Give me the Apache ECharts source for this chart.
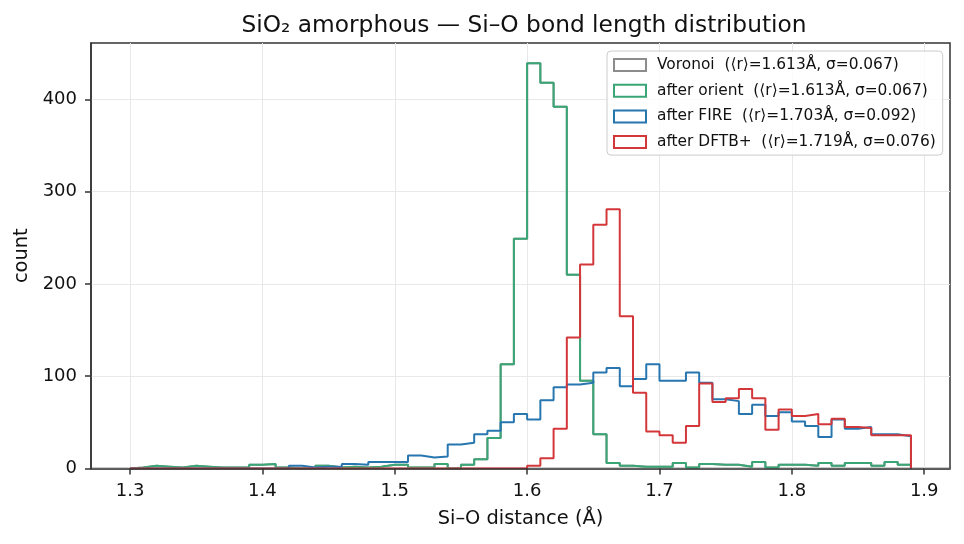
<!DOCTYPE html>
<html>
<head>
<meta charset="utf-8">
<script src="https://cdn.jsdelivr.net/npm/echarts@6/dist/echarts.min.js"></script>
<style>
  html, body { margin: 0; padding: 0; background: #fff; }
  #chart { width: 964px; height: 544px; }
</style>
</head>
<body>
<div id="chart"></div>
<script>
// histogram bins: 1.30 .. 1.89, width 0.01
const binEdges = [
  1.30, 1.31, 1.32, 1.33, 1.34, 1.35, 1.36, 1.37, 1.38, 1.39,
  1.40, 1.41, 1.42, 1.43, 1.44, 1.45, 1.46, 1.47, 1.48, 1.49,
  1.50, 1.51, 1.52, 1.53, 1.54, 1.55, 1.56, 1.57, 1.58, 1.59,
  1.60, 1.61, 1.62, 1.63, 1.64, 1.65, 1.66, 1.67, 1.68, 1.69,
  1.70, 1.71, 1.72, 1.73, 1.74, 1.75, 1.76, 1.77, 1.78, 1.79,
  1.80, 1.81, 1.82, 1.83, 1.84, 1.85, 1.86, 1.87, 1.88, 1.89
];

const voronoiCounts = [
  1, 3, 2, 1, 3, 2, 1, 1, 1, 4,
  5, 1, 0, 0, 3, 1, 2, 1, 2, 4,
  4, 1, 1, 5, 0, 4, 10, 33, 113, 249,
  439, 418, 392, 210, 95, 37, 6, 3, 2, 2,
  2, 6, 1, 5, 4, 4, 2, 7, 1, 4,
  4, 3, 6, 3, 6, 6, 3, 7, 4
];
const orientCounts = [
  1, 3, 2, 1, 3, 2, 1, 1, 1, 4,
  5, 1, 0, 0, 3, 1, 2, 1, 2, 4,
  4, 1, 1, 5, 0, 4, 10, 33, 113, 249,
  439, 418, 392, 210, 95, 37, 6, 3, 2, 2,
  2, 6, 1, 5, 4, 4, 2, 7, 1, 4,
  4, 3, 6, 3, 6, 6, 3, 7, 4
];
const fireCounts = [
  0, 0, 0, 0, 0, 0, 0, 0, 0, 0,
  0, 0, 3, 1, 2, 2, 5, 4, 7, 7,
  7, 14, 12, 13, 26, 28, 37, 41, 50, 59,
  53, 74, 88, 91, 93, 104, 109, 89, 97, 113,
  95, 95, 104, 93, 75, 73, 59, 69, 57, 61,
  51, 46, 34, 53, 43, 45, 37, 37, 35
];
const dftbCounts = [
  0, 0, 0, 0, 0, 0, 0, 0, 0, 0,
  0, 0, 0, 0, 0, 0, 0, 0, 0, 0,
  0, 0, 0, 0, 0, 0, 0, 0, 0, 0,
  3, 11, 43, 142, 221, 264, 281, 165, 82, 40,
  36, 28, 46, 92, 72, 76, 86, 76, 42, 64,
  57, 59, 48, 54, 45, 44, 36, 36, 36
];

const seriesNames = [
  "Voronoi  (\u27e8r\u27e9=1.613\u00c5, \u03c3=0.067)",
  "after orient  (\u27e8r\u27e9=1.613\u00c5, \u03c3=0.067)",
  "after FIRE  (\u27e8r\u27e9=1.703\u00c5, \u03c3=0.092)",
  "after DFTB+  (\u27e8r\u27e9=1.719\u00c5, \u03c3=0.076)"
];
const seriesColors = ["#8c8c8c", "#3aa676", "#2776b0", "#d3373a"];
const xTicks = [1.3, 1.4, 1.5, 1.6, 1.7, 1.8, 1.9];
const yTicks = [0, 100, 200, 300, 400];

// outline of a step histogram, as matplotlib histtype="step" draws it
function stepPoints(counts) {
  const pts = [[binEdges[0], 0]];
  counts.forEach((c, i) => {
    pts.push([binEdges[i], c]);
    pts.push([binEdges[i + 1], c]);
  });
  pts.push([binEdges[counts.length], 0]);
  return pts;
}

const allCounts = [voronoiCounts, orientCounts, fireCounts, dftbCounts];
const font = "DejaVu Sans";
const xMin = 1.2705, xMax = 1.9195;

const chart = echarts.init(document.getElementById("chart"), null, { renderer: "canvas" });
chart.setOption({
  animation: false,
  backgroundColor: "#fff",
  title: {
    text: "SiO\u2082 amorphous \u2014 Si\u2013O bond length distribution",
    left: 519,
    top: 9,
    textAlign: "center",
    textStyle: { fontFamily: font, fontSize: 23.3, fontWeight: "normal", color: "#111" }
  },
  grid: {
    left: 91, right: 14, top: 43, bottom: 75.5,
    show: true, borderColor: "#333", borderWidth: 1.5, backgroundColor: "transparent"
  },
  legend: {
    orient: "vertical",
    left: 607,
    top: 51,
    padding: [6, 7, 5, 6],
    itemWidth: 32,
    itemHeight: 12,
    itemGap: 9.7,
    backgroundColor: "rgba(255,255,255,0.8)",
    borderColor: "#cccccc",
    borderWidth: 1,
    borderRadius: 4,
    textStyle: { fontFamily: font, fontSize: 15.4, color: "#111", lineHeight: 16, padding: [0, 0, 0, 6] },
    data: seriesNames.map((n, i) => ({
      name: n,
      icon: "rect",
      itemStyle: { color: "rgba(0,0,0,0)", borderColor: seriesColors[i], borderWidth: 2 }
    }))
  },
  xAxis: [
    {
      // main axis, drawn over the histogram lines like matplotlib spines
      type: "value",
      min: xMin,
      max: xMax,
      z: 10,
      name: "Si\u2013O distance (\u00c5)",
      nameLocation: "middle",
      nameGap: 41,
      nameTextStyle: { fontFamily: font, fontSize: 19.4, color: "#111" },
      axisLine: { show: true, lineStyle: { color: "#333", width: 1.5 } },
      axisTick: { show: true, length: 6, lineStyle: { color: "#333", width: 1.5 }, customValues: xTicks },
      axisLabel: {
        fontFamily: font, fontSize: 18, color: "#111", margin: 14,
        customValues: xTicks, formatter: (v) => v.toFixed(1)
      },
      splitLine: { show: false }
    },
    {
      // grid lines only, kept below the lines
      type: "value",
      min: xMin,
      max: xMax,
      position: "top",
      axisLine: { show: false },
      axisTick: { show: false, customValues: xTicks },
      axisLabel: { show: false, customValues: xTicks },
      splitLine: { show: true, lineStyle: { color: "#e8e8e8", width: 1 } }
    }
  ],
  yAxis: {
    type: "value",
    min: 0,
    max: 461,
    name: "count",
    nameLocation: "middle",
    nameGap: 60,
    nameTextStyle: { fontFamily: font, fontSize: 19.4, color: "#111" },
    axisLine: { show: true, lineStyle: { color: "#333", width: 1.5 } },
    axisTick: { show: true, length: 6, lineStyle: { color: "#333", width: 1.5 }, customValues: yTicks },
    axisLabel: { fontFamily: font, fontSize: 18, color: "#111", margin: 14, customValues: yTicks },
    splitLine: { show: true, lineStyle: { color: "#e8e8e8", width: 1 } }
  },
  series: seriesNames.map((n, i) => ({
    name: n,
    type: "line",
    xAxisIndex: 0,
    data: stepPoints(allCounts[i]),
    showSymbol: false,
    symbol: "none",
    color: seriesColors[i],
    lineStyle: { color: seriesColors[i], width: 2 },
    z: 2 + i
  }))
});
</script>
</body>
</html>
